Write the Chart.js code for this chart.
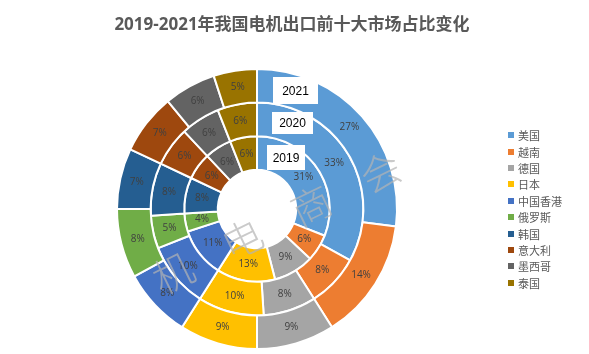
<!DOCTYPE html>
<html>
<head>
<meta charset="utf-8">
<script src="https://cdn.jsdelivr.net/npm/chart.js@4"></script>
<style>
  html, body { margin: 0; padding: 0; background: #fff; }
  #wrap { position: relative; width: 589px; height: 354px; overflow: hidden; }
  #title {
    position: absolute; left: 0; top: 10px; width: 584px; text-align: center;
    font: bold 17px "Open Sans", "Noto Sans CJK SC", sans-serif; color: #595959;
  }
  #legend { position: absolute; left: 508px; top: 127px; }
  .item { height: 16.4px; font: 11px "Noto Sans CJK SC", sans-serif; color: #595959; display: flex; align-items: center; }
  .box { width: 6px; height: 6px; margin-right: 4px; }
</style>
</head>
<body>
<div id="wrap">
  <canvas id="pie" width="589" height="354"></canvas>
  <div id="title">2019-2021年我国电机出口前十大市场占比变化</div>
  <div id="legend"></div>
</div>
<script>
const markets = ['美国', '越南', '德国', '日本', '中国香港', '俄罗斯', '韩国', '意大利', '墨西哥', '泰国'];
const share2019 = [31, 6, 9, 13, 11, 4, 8, 6, 6, 6];
const share2020 = [33, 8, 8, 10, 10, 5, 8, 6, 6, 6];
const share2021 = [27, 14, 9, 9, 8, 8, 7, 7, 6, 5];
const colors = ['#5B9BD5', '#ED7D31', '#A5A5A5', '#FFC000', '#4472C4', '#70AD47', '#255E91', '#9E480E', '#636363', '#997300'];

// legend
const legend = document.getElementById('legend');
markets.forEach((m, i) => {
  legend.innerHTML += `<div class="item"><span class="box" style="background:${colors[i]}"></span>${m}</div>`;
});

// percent labels in the middle of each slice
const sliceLabels = {
  id: 'sliceLabels',
  afterDatasetsDraw(chart) {
    const ctx = chart.ctx;
    ctx.save();
    ctx.font = '10px "Open Sans", sans-serif';
    ctx.fillStyle = '#404040';
    ctx.textAlign = 'center';
    ctx.textBaseline = 'middle';
    chart.data.datasets.forEach((ds, d) => {
      chart.getDatasetMeta(d).data.forEach((arc, i) => {
        const p = arc.tooltipPosition();
        ctx.fillText(ds.data[i] + '%', p.x, p.y);
      });
    });
    ctx.restore();
  },
  afterDraw(chart) {
    const ctx = chart.ctx;
    ctx.save();
    // year tags
    const tags = [['2021', 273, 77, 45, 27], ['2020', 272, 112, 41, 22], ['2019', 267, 145, 38, 25]];
    ctx.font = '12px "Liberation Sans", sans-serif';
    ctx.textAlign = 'center';
    ctx.textBaseline = 'middle';
    tags.forEach(([t, x, y, w, h]) => {
      ctx.fillStyle = '#fff';
      ctx.fillRect(x, y, w, h);
      ctx.fillStyle = '#000';
      ctx.fillText(t, x + w / 2, y + h / 2 + 1);
    });
    // watermark
    ctx.translate(173, 273);
    ctx.rotate(-26 * Math.PI / 180);
    ctx.font = '300 40px "Noto Sans CJK SC", sans-serif';
    ctx.fillStyle = 'rgba(180,180,180,0.7)';
    ctx.textAlign = 'center';
    ctx.textBaseline = 'middle';
    ['机', '电', '商', '会'].forEach((c, i) => ctx.fillText(c, i * 77, 0));
    ctx.restore();
  }
};

new Chart(document.getElementById('pie'), {
  type: 'doughnut',
  data: {
    labels: markets,
    datasets: [
      { label: '2021', data: share2021, backgroundColor: colors, borderColor: '#fff', borderWidth: 2 },
      { label: '2020', data: share2020, backgroundColor: colors, borderColor: '#fff', borderWidth: 2 },
      { label: '2019', data: share2019, backgroundColor: colors, borderColor: '#fff', borderWidth: 2 },
    ],
  },
  options: {
    responsive: false,
    animation: false,
    cutout: '28%',
    layout: { padding: { left: 116, right: 191, top: 68, bottom: 4 } },
    plugins: { legend: { display: false }, tooltip: { enabled: false } },
  },
  plugins: [sliceLabels],
});
</script>
</body>
</html>
